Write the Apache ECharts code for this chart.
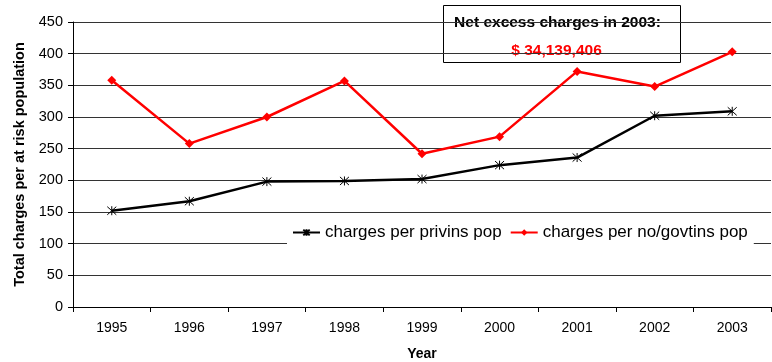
<!DOCTYPE html>
<html>
<head>
<meta charset="utf-8">
<script src="https://cdn.jsdelivr.net/npm/echarts@6/dist/echarts.min.js"></script>
<style>
  html, body { margin: 0; padding: 0; background: #fff; }
  #chart { width: 772px; height: 362px; }
</style>
</head>
<body>
<div id="chart"></div>
<script>
// data
var years = ['1995', '1996', '1997', '1998', '1999', '2000', '2001', '2002', '2003'];
var privIns = [152, 167, 198, 199, 202, 224, 236, 302, 309];
var noGovIns = [358, 258, 300, 357, 242, 269, 372, 348, 403];
var seriesNames = ['charges per privins pop', 'charges per no/govtins pop'];
var boxTitle = 'Net excess charges in 2003:';
var boxValue = '$ 34,139,406';

var font = '"Liberation Sans", Arial, sans-serif';
var asterisk = 'path://M0,-5L0,5M-4.5,-4.5L4.5,4.5M-4.5,4.5L4.5,-4.5';

var myChart = echarts.init(document.getElementById('chart'), null, { renderer: 'canvas' });

myChart.setOption({
    animation: false,
    textStyle: { fontFamily: font },
    grid: { left: 73, top: 22, right: 1, bottom: 55, containLabel: false, outerBoundsMode: 'none' },
    legend: {
        data: seriesNames,
        left: 287,
        top: 220,
        padding: [4, 6, 4, 5],
        backgroundColor: '#fff',
        itemWidth: 27,
        itemHeight: 8,
        itemGap: 8,
        textStyle: { fontFamily: font, fontSize: 17, color: '#000' }
    },
    xAxis: {
        type: 'category',
        data: years,
        boundaryGap: true,
        name: 'Year',
        nameLocation: 'middle',
        nameGap: 40,
        nameTextStyle: { fontFamily: font, fontWeight: 'bold', fontSize: 14, color: '#000' },
        axisLine: { lineStyle: { color: '#000', width: 1 } },
        axisTick: { show: true, interval: 0, length: 5, lineStyle: { color: '#000' } },
        axisLabel: { interval: 0, margin: 14, fontFamily: font, fontSize: 14, color: '#000' },
        splitLine: { show: false }
    },
    yAxis: {
        type: 'value',
        min: 0,
        max: 450,
        interval: 50,
        name: 'Total charges per at risk population',
        nameLocation: 'middle',
        nameGap: 46,
        nameTextStyle: { fontFamily: font, fontWeight: 'bold', fontSize: 14.5, color: '#000' },
        axisLine: { show: true, lineStyle: { color: '#000', width: 1 } },
        axisTick: { show: true, length: 5, lineStyle: { color: '#000' } },
        axisLabel: { margin: 10, fontFamily: font, fontSize: 14.5, color: '#000' },
        splitLine: { show: true, lineStyle: { color: '#333', width: 1 } }
    },
    graphic: [
        {
            type: 'group',
            left: 443,
            top: 5,
            z: 100,
            children: [
                {
                    type: 'rect',
                    shape: { x: 0, y: 0, width: 237, height: 57 },
                    style: { fill: '#fff', stroke: '#000', lineWidth: 1 }
                },
                {
                    type: 'text',
                    x: 114,
                    y: 17,
                    style: {
                        text: boxTitle,
                        fill: '#000',
                        font: 'bold 15.5px ' + font,
                        textAlign: 'center',
                        textVerticalAlign: 'middle'
                    }
                },
                {
                    type: 'text',
                    x: 113,
                    y: 45,
                    style: {
                        text: boxValue,
                        fill: '#ff0000',
                        font: 'bold 15.5px ' + font,
                        textAlign: 'center',
                        textVerticalAlign: 'middle'
                    }
                }
            ]
        }
    ],
    series: [
        {
            name: seriesNames[0],
            type: 'line',
            data: privIns,
            symbol: asterisk,
            symbolSize: 9,
            lineStyle: { color: '#000', width: 2.5 },
            itemStyle: { color: '#000', borderColor: '#000', borderWidth: 1 },
            z: 3
        },
        {
            name: seriesNames[1],
            type: 'line',
            data: noGovIns,
            symbol: 'diamond',
            symbolSize: 9,
            lineStyle: { color: '#ff0000', width: 2.5 },
            itemStyle: { color: '#ff0000', borderColor: '#ff0000', borderWidth: 0 },
            z: 3
        }
    ]
});
</script>
</body>
</html>
